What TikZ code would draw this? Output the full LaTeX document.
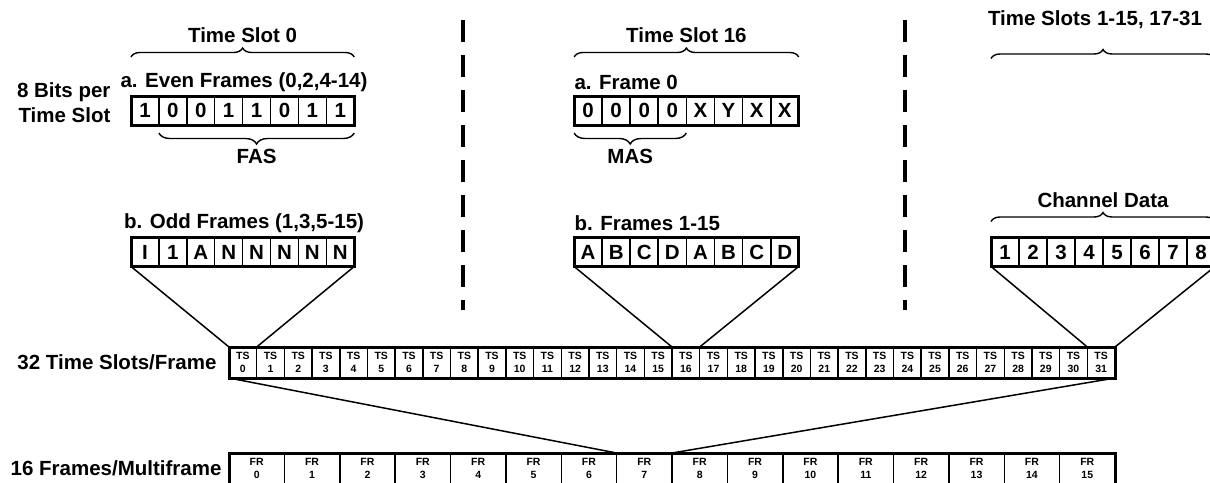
\documentclass[tikz,border=0pt]{standalone}
\usepackage{fontspec}
\setmainfont{Liberation Sans}
\usetikzlibrary{positioning, calc, decorations.pathreplacing}

\begin{document}
\begin{tikzpicture}[x=1pt, y=-1pt,
  font=\bfseries\fontsize{20.5}{25}\selectfont,
  bit/.style={draw, line width=1.5pt, minimum width=27.9pt, minimum height=29pt,
              inner sep=0pt, outer sep=0pt, text height=14.5pt, text depth=0.5pt,
              font=\bfseries\fontsize{20.5}{22}\selectfont},
  slot/.style={draw, line width=1.5pt, minimum width=27.69pt, minimum height=31pt,
               inner sep=0pt, outer sep=0pt, align=center,
               font=\bfseries\fontsize{10.5}{13}\selectfont},
  frm/.style={slot, minimum width=55.375pt},
  outline/.style={line width=3pt},
  brc/.style={decorate, decoration={brace, amplitude=9pt}, line width=1.4pt},
  link/.style={line width=1.5pt},
  sep/.style={line width=3.5pt, dash pattern=on 22pt off 13pt}]
  \useasboundingbox (0,0) rectangle (1210,482);

  % time slot 0
  \foreach \b [count=\i] in {1,0,0,1,1,0,1,1}
    \node[bit] (ev\i) at ({131+27.9*(\i-0.5)},110.5) {\b};
  \draw[outline] (ev1.north west) rectangle (ev8.south east);
  \foreach \b [count=\i] in {I,1,A,N,N,N,N,N}
    \node[bit] (od\i) at ({131+27.9*(\i-0.5)},252) {\b};
  \draw[outline] (od1.north west) rectangle (od8.south east);
  \draw[brc] ($(ev1.north west)+(0,-39)$) -- ($(ev8.north east)+(0,-39)$)
    node[midway, above=10pt] (ts0lbl) {Time Slot 0};
  \draw[brc, decoration={amplitude=11pt}] ($(ev8.south east)+(0,8)$) -- ($(ev2.south west)+(0,8)$)
    node[midway, below=12pt] (fas) {FAS};
  \node (evlbl) at (244,82) {a. Even Frames (0,2,4-14)};
  \node (odlbl) at (244,223) {b. Odd Frames (1,3,5-15)};
  \node[align=right, anchor=east] (bits) at (114,102.5) {8 Bits per\\Time Slot};

  % time slot 16
  \foreach \b [count=\i] in {0,0,0,0,X,Y,X,X}
    \node[bit] (fz\i) at ({574+28.1*(\i-0.5)},110.5) {\b};
  \draw[outline] (fz1.north west) rectangle (fz8.south east);
  \foreach \b [count=\i] in {A,B,C,D,A,B,C,D}
    \node[bit] (tb\i) at ({574+28.1*(\i-0.5)},252) {\b};
  \draw[outline] (tb1.north west) rectangle (tb8.south east);
  \draw[brc] ($(fz1.north west)+(0,-39)$) -- ($(fz8.north east)+(0,-39)$)
    node[midway, above=10pt] (ts16lbl) {Time Slot 16};
  \draw[brc, decoration={amplitude=11pt}] ($(fz4.south east)+(0,8)$) -- ($(fz1.south west)+(0,8)$)
    node[midway, below=12pt] (mas) {MAS};
  \node[anchor=west] (fzlbl) at (571,82) {a. Frame 0};
  \node[anchor=west] (tblbl) at (571,223) {b. Frames 1-15};

  % other time slots
  \foreach \b [count=\i] in {1,...,8}
    \node[bit] (cd\i) at ({991+28*(\i-0.5)},252) {\b};
  \draw[outline] (cd1.north west) rectangle (cd8.south east);
  \draw[brc] ($(cd1.north west)+(0,-179)$) -- ($(cd8.north east)+(0,-179)$);
  \node (restlbl) at (1095,20) {Time Slots 1-15, 17-31};
  \draw[brc] ($(cd1.north west)+(0,-16)$) -- ($(cd8.north east)+(0,-16)$)
    node[midway, above=10pt] (chlbl) {Channel Data};

  % separators
  \draw[sep] (463,20) -- (463,310);
  \draw[sep] (905,20) -- (905,310);

  % frame and multiframe
  \foreach \i in {0,...,31}
    \node[slot] (ts\i) at ({229+27.6875*(\i+0.5)},362.5) {TS\\\i};
  \draw[outline] (ts0.north west) rectangle (ts31.south east);
  \foreach \i in {0,...,15}
    \node[frm] (fr\i) at ({229+55.375*(\i+0.5)},468.5) {FR\\\i};
  \draw[outline] (fr0.north west) rectangle (fr15.south east);
  \node[anchor=east] (tslbl) at (220,362) {32 Time Slots/Frame};
  \node[anchor=east] (frlbl) at (225,468) {16 Frames/Multiframe};

  \draw[link] (od1.south west) -- (ts0.north west);
  \draw[link] (od8.south east) -- (ts0.north east);
  \draw[link] (tb1.south west) -- (ts16.north west);
  \draw[link] (tb8.south east) -- (ts16.north east);
  \draw[link] (cd1.south west) -- (ts31.north west);
  \draw[link] (cd8.south east) -- (ts31.north east);
  \draw[link] (ts0.south west) -- (fr7.north west);
  \draw[link] (ts31.south east) -- (fr7.north east);
\end{tikzpicture}
\end{document}
